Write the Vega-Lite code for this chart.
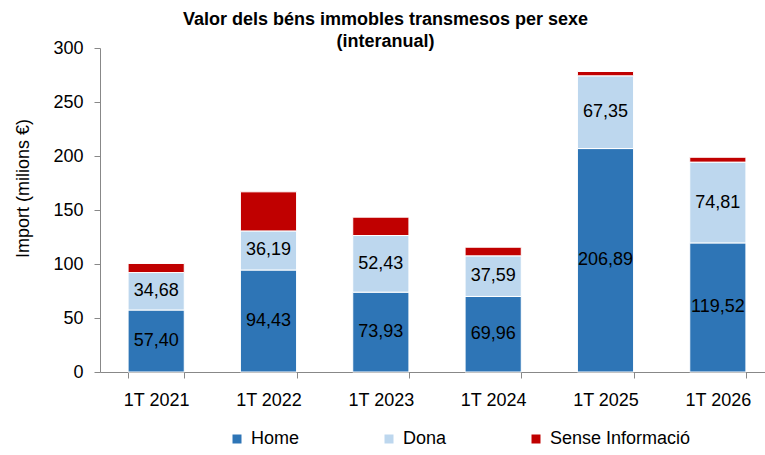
{
  "$schema": "https://vega.github.io/schema/vega-lite/v6.json",
  "width": 665,
  "height": 324,
  "autosize": {"type": "none"},
  "padding": {"left": 100, "top": 48, "right": 0, "bottom": 83},
  "background": "white",
  "config": {
    "font": "Liberation Sans",
    "view": {"stroke": null},
    "locale": {"number": {"decimal": ",", "thousands": ".", "grouping": [3], "currency": ["", " €"]}},
    "axis": {"domainColor": "#888888", "tickColor": "#888888", "labelColor": "#000000", "titleColor": "#000000", "labelFontSize": 18, "titleFontSize": 18, "titleFontWeight": "normal", "grid": false, "labelFont": "Liberation Sans", "titleFont": "Liberation Sans"}
  },
  "title": {
    "text": ["Valor dels béns immobles transmesos  per sexe", "(interanual)"],
    "fontSize": 18,
    "fontWeight": "bold",
    "font": "Liberation Sans",
    "color": "#000000",
    "anchor": "middle",
    "frame": "group",
    "dx": -47,
    "offset": -12,
    "lineHeight": 22
  },
  "data": {
    "values": [
      {"period": "1T 2021", "sex": "Home", "value": 57.40},
      {"period": "1T 2021", "sex": "Dona", "value": 34.68},
      {"period": "1T 2021", "sex": "Sense Informació", "value": 8.4},
      {"period": "1T 2022", "sex": "Home", "value": 94.43},
      {"period": "1T 2022", "sex": "Dona", "value": 36.19},
      {"period": "1T 2022", "sex": "Sense Informació", "value": 36.2},
      {"period": "1T 2023", "sex": "Home", "value": 73.93},
      {"period": "1T 2023", "sex": "Dona", "value": 52.43},
      {"period": "1T 2023", "sex": "Sense Informació", "value": 17.0},
      {"period": "1T 2024", "sex": "Home", "value": 69.96},
      {"period": "1T 2024", "sex": "Dona", "value": 37.59},
      {"period": "1T 2024", "sex": "Sense Informació", "value": 8.0},
      {"period": "1T 2025", "sex": "Home", "value": 206.89},
      {"period": "1T 2025", "sex": "Dona", "value": 67.35},
      {"period": "1T 2025", "sex": "Sense Informació", "value": 4.0},
      {"period": "1T 2026", "sex": "Home", "value": 119.52},
      {"period": "1T 2026", "sex": "Dona", "value": 74.81},
      {"period": "1T 2026", "sex": "Sense Informació", "value": 4.5}
    ]
  },
  "transform": [
    {"calculate": "indexof(['Home','Dona','Sense Informació'], datum.sex)", "as": "ord"}
  ],
  "encoding": {
    "x": {
      "field": "period",
      "type": "nominal",
      "sort": null,
      "scale": {"paddingInner": 0.5, "paddingOuter": 0.25, "range": [0, 674]},
      "axis": {"title": null, "labelAngle": 0, "tickBand": "extent", "tickSize": 6, "labelPadding": 13}
    }
  },
  "layer": [
    {
      "mark": {"type": "bar", "stroke": "white", "strokeWidth": 1},
      "encoding": {
        "y": {
          "field": "value",
          "type": "quantitative",
          "stack": "zero",
          "scale": {"domain": [0, 300]},
          "axis": {"title": "Import (milions €)", "values": [0, 50, 100, 150, 200, 250, 300], "tickSize": 6, "labelPadding": 11, "titlePadding": 20, "titleY": 140}
        },
        "order": {"field": "ord", "type": "quantitative"},
        "color": {
          "field": "sex",
          "type": "nominal",
          "sort": ["Home", "Dona", "Sense Informació"],
          "scale": {"domain": ["Home", "Dona", "Sense Informació"], "range": ["#2E75B6", "#BDD7EE", "#C00000"]},
          "legend": {
            "title": null,
            "orient": "none",
            "direction": "horizontal",
            "legendX": 128,
            "legendY": 382,
            "symbolType": "square",
            "symbolSize": 81,
            "symbolStrokeWidth": 0,
            "labelFontSize": 18,
            "labelFont": "Liberation Sans",
            "labelColor": "#000000",
            "columnPadding": 80,
            "labelOffset": 5
          }
        }
      }
    },
    {
      "transform": [{"filter": "datum.sex !== 'Sense Informació'"}],
      "mark": {"type": "text", "fontSize": 18, "color": "#000000", "baseline": "middle"},
      "encoding": {
        "y": {"field": "value", "type": "quantitative", "stack": "zero", "bandPosition": 0.5},
        "order": {"field": "ord", "type": "quantitative"},
        "detail": {"field": "sex", "type": "nominal"},
        "text": {"field": "value", "type": "quantitative", "format": ".2f"}
      }
    }
  ]
}
